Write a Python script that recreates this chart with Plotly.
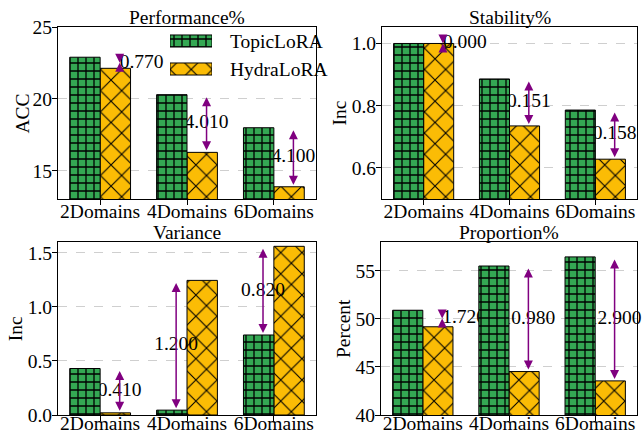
import plotly.graph_objects as go

W, H = 642, 433

# ---------------- data ----------------
categories = ["2Domains", "4Domains", "6Domains"]
series_names = ["TopicLoRA", "HydraLoRA"]

perf_topic = [22.90, 20.30, 18.00]
perf_hydra = [22.13, 16.29, 13.90]
stab_topic = [1.000, 0.886, 0.786]
stab_hydra = [1.000, 0.735, 0.628]
var_topic = [0.430, 0.045, 0.740]
var_hydra = [0.020, 1.245, 1.560]
prop_topic = [50.90, 55.50, 56.45]
prop_hydra = [49.18, 44.52, 43.55]

titles = ["Performance%", "Stability%", "Variance", "Proportion%"]
ylabels = ["ACC", "Inc", "Inc", "Percent"]
yranges = [[13.05, 25.0], [0.5, 1.053], [0.0, 1.6], [40.0, 58.0]]
ytickvals = [[15, 20, 25], [0.6, 0.8, 1.0], [0.0, 0.5, 1.0, 1.5], [40, 45, 50, 55]]
ytickfmt = ["d", ".1f", ".1f", "d"]

# ---------------- style / layout ----------------
FONT = "Liberation Serif"
FS = 19.5
GREEN = "#34A853"
GOLD = "#FBBC05"
PURPLE = "#800080"
BAR_W = 0.35
XR = [-0.485, 2.485]

# pixel boxes (left, right, top, bottom), y-title x-centres, x-label standoff
boxes = [(58, 316, 27, 199), (382, 637, 27, 199), (58, 316, 242, 415), (381, 637, 242, 415)]
ytitle_x = [21.5, 338.5, 15.8, 343.5]
xlab_standoff = [-10, -10, -14, -14]

def xdom(l, r):
    return [l / W, r / W]

def ydom(t, b):
    return [1 - b / H, 1 - t / H]

topic_marker = dict(color=GREEN, line=dict(color="black", width=1),
                    pattern=dict(shape="+", size=8, solidity=0.3, fgcolor="black",
                                 bgcolor=GREEN, fillmode="replace"))
hydra_marker = dict(color=GOLD, line=dict(color="black", width=1),
                    pattern=dict(shape="x", size=15, solidity=0.14, fgcolor="black",
                                 bgcolor=GOLD, fillmode="replace"))

panels = [(perf_topic, perf_hydra), (stab_topic, stab_hydra),
          (var_topic, var_hydra), (prop_topic, prop_hydra)]

fig = go.Figure()
layout = {}
annotations = []
font = dict(family=FONT, size=FS, color="black")

for i, (topic, hydra) in enumerate(panels):
    n = i + 1
    bx = "x" if n == 1 else f"x{n}"
    by = "y" if n == 1 else f"y{n}"
    kx = "xaxis" if n == 1 else f"xaxis{n}"
    ky = "yaxis" if n == 1 else f"yaxis{n}"
    ox, oy = f"x{n + 4}", f"y{n + 4}"
    l, r, t, b = boxes[i]
    yr = yranges[i]

    layout[kx] = dict(domain=xdom(l, r), range=XR, anchor=by, automargin=False,
                      tickmode="array", tickvals=list(range(len(categories))),
                      ticktext=categories, showline=True, mirror=True,
                      linecolor="black", linewidth=1, ticks="outside", ticklen=5,
                      tickcolor="black", showgrid=False, zeroline=False,
                      ticklabelstandoff=xlab_standoff[i],
                      tickfont=font, fixedrange=True)
    layout[ky] = dict(domain=ydom(t, b), range=yr, anchor=bx, automargin=False,
                      tickmode="array", tickvals=ytickvals[i],
                      tickformat=ytickfmt[i], showline=True, mirror=True,
                      linecolor="black", linewidth=1, ticks="outside", ticklen=5,
                      tickcolor="black", showgrid=True, gridcolor="#cfcfcf",
                      gridwidth=0.8, griddash="dash", zeroline=False,
                      ticklabelstandoff=-4,
                      tickfont=font, fixedrange=True)
    layout[f"xaxis{n + 4}"] = dict(overlaying=bx, anchor=oy, range=XR, visible=False,
                                   automargin=False)
    layout[f"yaxis{n + 4}"] = dict(overlaying=by, anchor=ox, range=yr, visible=False,
                                   automargin=False)

    idx = list(range(len(categories)))
    # HydraLoRA bars on the base axes (below the value labels)
    fig.add_trace(go.Bar(x=[k + BAR_W / 2 for k in idx], y=hydra, width=BAR_W,
                         marker=hydra_marker, name=series_names[1],
                         xaxis=bx, yaxis=by, showlegend=False))
    # TopicLoRA bars on the overlay axes (above the value labels)
    fig.add_trace(go.Bar(x=[k - BAR_W / 2 for k in idx], y=topic, width=BAR_W,
                         marker=topic_marker, name=series_names[0],
                         xaxis=ox, yaxis=oy, showlegend=False))

    span = yr[1] - yr[0]
    for k in idx:
        hi, lo = max(topic[k], hydra[k]), min(topic[k], hydra[k])
        low_is_hydra = hydra[k] <= topic[k]
        xa = k + (BAR_W / 2 if low_is_hydra else -BAR_W / 2) + 0.05
        diff = abs(topic[k] - hydra[k])
        mid = (hi + lo) / 2
        small = diff / span < 0.12
        fig.add_trace(go.Scatter(x=[xa], y=[mid], mode="text",
                                 text=[f"{diff:.3f}"],
                                 textposition="middle right" if small else "middle center",
                                 textfont=font, xaxis=bx, yaxis=by,
                                 showlegend=False, cliponaxis=False,
                                 hoverinfo="skip"))
        if small:
            for sgn in (-1, 1):
                annotations.append(dict(x=xa, y=mid, xref=ox, yref=oy,
                                        ax=0, ay=sgn * 9, text="", showarrow=True,
                                        arrowhead=2, arrowsize=1.2, arrowwidth=1.5,
                                        arrowcolor=PURPLE, standoff=0))
        else:
            annotations.append(dict(x=xa, y=lo, xref=ox, yref=oy,
                                    ax=xa, ay=hi, axref=ox, ayref=oy,
                                    text="", showarrow=True, arrowside="end+start",
                                    arrowhead=2, startarrowhead=2,
                                    arrowsize=1.2, startarrowsize=1.2,
                                    arrowwidth=1.5, arrowcolor=PURPLE,
                                    standoff=2, startstandoff=2, borderpad=0))

    # subplot title
    title_y = t - 10
    annotations.append(dict(x=(l + r) / 2 / W, y=1 - title_y / H, xref="paper",
                            yref="paper", text=titles[i], showarrow=False,
                            xanchor="center", yanchor="middle", font=font))
    # y axis title
    annotations.append(dict(x=ytitle_x[i] / W, y=1 - (t + b) / 2 / H, xref="paper",
                            yref="paper", text=ylabels[i], showarrow=False,
                            textangle=-90, xanchor="center", yanchor="middle",
                            font=font))

# ---------------- legend (patches drawn as bars on a small axis) ----------------
layout["xaxis9"] = dict(domain=xdom(170, 212), range=[0, 1], anchor="y9", visible=False,
                        automargin=False)
layout["yaxis9"] = dict(domain=ydom(27, 83), range=[-0.5, 1.5], anchor="x9", visible=False,
                        automargin=False)
fig.add_trace(go.Bar(x=[1], y=[1], orientation="h", width=0.43, marker=topic_marker,
                     xaxis="x9", yaxis="y9", showlegend=False, hoverinfo="skip"))
fig.add_trace(go.Bar(x=[1], y=[0], orientation="h", width=0.43, marker=hydra_marker,
                     xaxis="x9", yaxis="y9", showlegend=False, hoverinfo="skip"))
for name, py in zip(series_names, (42, 70)):
    annotations.append(dict(x=228 / W, y=1 - py / H, xref="paper", yref="paper",
                            text=name, showarrow=False, xanchor="left",
                            yanchor="middle", font=font))

fig.update_layout(**layout)
fig.update_layout(width=W, height=H, margin=dict(l=0, r=0, t=0, b=0),
                  paper_bgcolor="white", plot_bgcolor="white",
                  barmode="overlay", showlegend=False,
                  font=font, annotations=annotations)

fig.write_html("out.html", config={"displayModeBar": False},
               post_script="document.body.style.margin='0px';"
                           "document.body.style.overflow='hidden';")
